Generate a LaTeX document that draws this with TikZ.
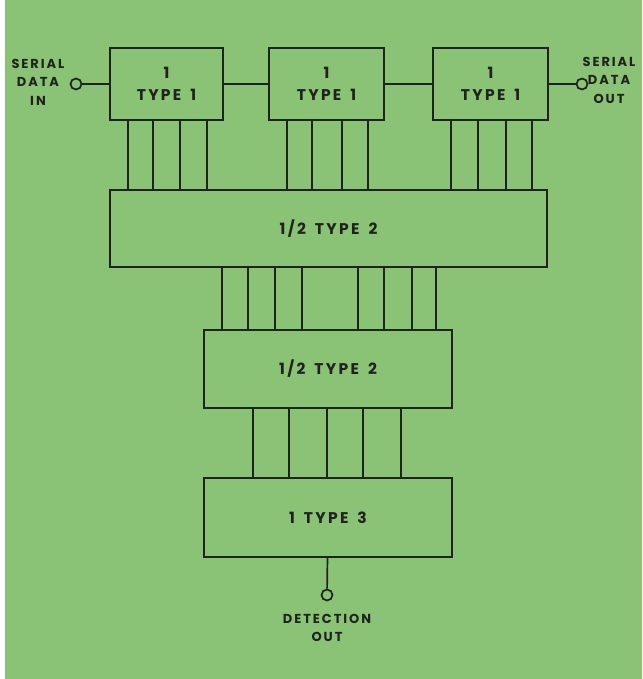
\documentclass[tikz,border=0pt]{standalone}
\usepackage{fontspec}
\setmainfont{Poppins}[LetterSpace=15, WordSpace=1.6]
\definecolor{boardgreen}{RGB}{138,194,118}
\definecolor{inkline}{RGB}{30,36,28}
\begin{document}
\begin{tikzpicture}[x=1pt, y=-1pt,
    blockbox/.style={draw=inkline, line width=1.7pt, inner sep=0pt,
                     align=center, text=inkline,
                     font=\fontsize{15.5}{22}\selectfont\bfseries},
    wire/.style={draw=inkline, line width=1.7pt},
    pin/.style={circle, draw=inkline, line width=1.7pt,
                minimum size=11pt, inner sep=0pt},
    pinlabel/.style={align=center, text=inkline,
                     font=\fontsize{13}{18.5}\selectfont\bfseries}
  ]
    \fill[white] (0,0) rectangle (642,679);
    \fill[boardgreen] (5,0) rectangle (642,679);

    \node[blockbox, minimum width=113pt, minimum height=72pt]
      (ta) at (166.5,84) {1\\TYPE 1};
    \node[blockbox, minimum width=115pt, minimum height=72pt]
      (tb) at (326.5,84) {1\\TYPE 1};
    \node[blockbox, minimum width=115pt, minimum height=72pt]
      (tc) at (490.5,84) {1\\TYPE 1};
    \node[blockbox, minimum width=437pt, minimum height=77pt]
      (ha) at (328.5,228.5) {1/2 TYPE 2};
    \node[blockbox, minimum width=248pt, minimum height=78pt]
      (hb) at (328,369) {1/2 TYPE 2};
    \node[blockbox, minimum width=248pt, minimum height=79pt]
      (th) at (328,517.5) {1 TYPE 3};

    \node[pin] (pinin)  at (76,84)  {};
    \node[pin] (pinout) at (582,84) {};
    \node[pin] (pindet) at (327,595) {};

    \node[pinlabel] (lin)  at (38,82)   {SERIAL\\DATA\\IN};
    \node[pinlabel] (lout) at (609,80)  {SERIAL\\DATA\\OUT};
    \node[pinlabel] (ldet) at (327,628) {DETECTION\\OUT};

    \draw[wire] (pinin) -- (ta);
    \draw[wire] (ta) -- (tb);
    \draw[wire] (tb) -- (tc);
    \draw[wire] (tc) -- (pinout);
    \draw[wire] (th) -- (pindet);

    \foreach \x in {128,153,180,207}
      \draw[wire] (ta.south -| \x,0) -- (ha.north -| \x,0);
    \foreach \x in {287,312,342,368}
      \draw[wire] (tb.south -| \x,0) -- (ha.north -| \x,0);
    \foreach \x in {451,478,506,532}
      \draw[wire] (tc.south -| \x,0) -- (ha.north -| \x,0);
    \foreach \x in {222,248,275,302,358,384,412,436}
      \draw[wire] (ha.south -| \x,0) -- (hb.north -| \x,0);
    \foreach \x in {253,289,327,363,401}
      \draw[wire] (hb.south -| \x,0) -- (th.north -| \x,0);
  \end{tikzpicture}
\end{document}
